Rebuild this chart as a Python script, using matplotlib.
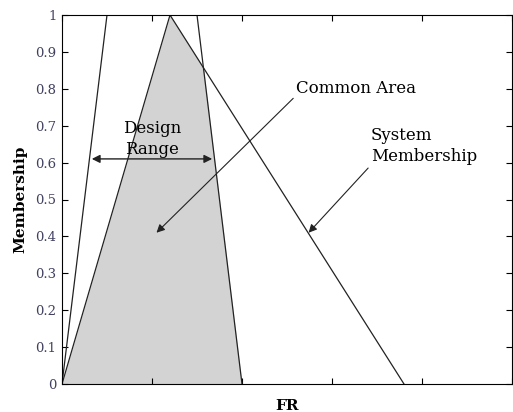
import numpy as np
import matplotlib.pyplot as plt

plt.rcParams["font.family"] = "serif"
plt.rcParams["font.serif"] = ["DejaVu Serif", "Liberation Serif"]

# design range (trapezoid) and system membership (triangle) corner points
design_x = [0.0, 0.5, 1.5, 2.0]
design_y = [0.0, 1.0, 1.0, 0.0]
system_x = [0.0, 1.2, 3.8]
system_y = [0.0, 1.0, 0.0]
yticks = [0, 0.1, 0.2, 0.3, 0.4, 0.5, 0.6, 0.7, 0.8, 0.9, 1]
ytick_labels = ["0", "0.1", "0.2", "0.3", "0.4", "0.5", "0.6", "0.7", "0.8", "0.9", "1"]

fig = plt.figure(figsize=(5.13, 4.12), dpi=100)
ax = fig.add_axes([62/513, 28/412, 450/513, 369/412])

# common area = min of both memberships
xs = np.linspace(0, 5, 2001)
common = np.minimum(np.interp(xs, design_x, design_y, left=0, right=0),
                    np.interp(xs, system_x, system_y, left=0, right=0))
ax.fill_between(xs, 0, common, color="#d3d3d3", lw=0)

ax.plot(design_x, design_y, color="#222222", lw=0.9)
ax.plot(system_x, system_y, color="#222222", lw=0.9)

ax.annotate("", xy=(0.3, 0.61), xytext=(1.7, 0.61),
            arrowprops=dict(arrowstyle="<|-|>", color="#222222", lw=1.0, mutation_scale=12))
ax.text(1.0, 0.663, "Design\nRange", ha="center", va="center", fontsize=12, linespacing=1.3)

ax.annotate("Common Area", xy=(1.05, 0.41), xytext=(2.6, 0.80),
            fontsize=12, ha="left", va="center",
            arrowprops=dict(arrowstyle="-|>", color="#222222", lw=0.8, mutation_scale=12,
                            shrinkA=0, shrinkB=0, relpos=(0, 0.1)))
ax.annotate("System\nMembership", xy=(2.74, 0.41), xytext=(3.43, 0.645),
            fontsize=12, ha="left", va="center", linespacing=1.35,
            arrowprops=dict(arrowstyle="-|>", color="#222222", lw=0.8, mutation_scale=12,
                            shrinkA=0, shrinkB=0, relpos=(0, 0.0)))

ax.set_xlim(0, 5)
ax.set_ylim(0, 1)
ax.set_xticks([0, 1, 2, 3, 4, 5])
ax.set_xticklabels([])
ax.set_yticks(yticks)
ax.set_yticklabels(ytick_labels, fontsize=9.5, color="#404060")
ax.tick_params(direction="in", top=True, right=True, length=4, width=0.8, pad=4)
for s in ax.spines.values():
    s.set_linewidth(0.8)

ax.set_xlabel("FR", fontweight="bold", fontsize=11, labelpad=7)
ax.set_ylabel("Membership", fontweight="bold", fontsize=11, labelpad=6)

fig.savefig("out.png", dpi=100)
